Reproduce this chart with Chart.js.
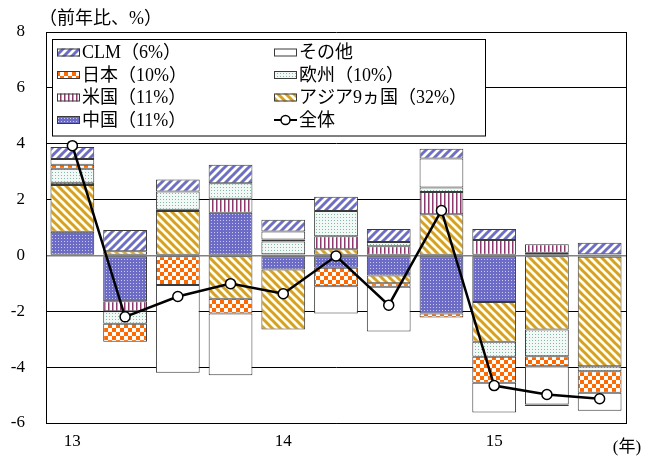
<!DOCTYPE html>
<html>
<head>
<meta charset="utf-8">
<script src="https://cdn.jsdelivr.net/npm/chart.js@4"></script>
<style>
  html, body { margin: 0; padding: 0; background: #fff; }
</style>
</head>
<body>
<canvas id="chart" width="656" height="457"></canvas>
<script>
/* 地域別輸出の前年比寄与度 (stacked bars + total line) */

const quarters = ["13Q1", "13Q2", "13Q3", "13Q4", "14Q1", "14Q2", "14Q3", "14Q4", "15Q1", "15Q2", "15Q3"];
const yearLabels = ["13", "", "", "", "14", "", "", "", "15", "", ""];

// stacking order from the axis outwards
const china = [0.85, -1.64, null, 1.53, -0.5, -0.44, -0.72, -2.08, -1.67, 0.1, -0.05];
const asia9 = [1.67, 0.15, 1.59, -1.55, -2.15, 0.22, -0.28, 1.47, -1.42, -2.65, -3.92];
const usa = [0.08, -0.36, 0.05, 0.5, 0.04, 0.47, 0.33, 0.8, 0.55, 0.3, 0.04];
const europe = [0.5, -0.45, 0.65, 0.55, 0.46, 0.9, 0.15, 0.16, -0.54, -0.96, -0.18];
const japan = [0.15, -0.64, -1.06, -0.53, 0.07, -0.66, -0.12, -0.14, -0.93, -0.36, -0.77];
const others = [0.2, null, -3.14, -2.21, 0.29, -0.98, -1.6, 1.04, -1.06, -1.37, -0.64];
const clm = [0.43, 0.76, 0.43, 0.67, 0.42, 0.51, 0.47, 0.35, 0.4, -0.05, 0.41];
const total = [3.93, -2.2, -1.47, -1.01, -1.37, -0.02, -1.78, 1.61, -4.66, -4.98, -5.13];

const FONT = '"Liberation Serif", "Noto Sans CJK JP", serif';
const EDGE = "#3a3a3a";

function makePattern(w, h, draw) {
  const c = document.createElement("canvas");
  c.width = w;
  c.height = h;
  const x = c.getContext("2d");
  draw(x, w, h);
  return x.createPattern(c, "repeat");
}

function stripes(color, rising) {
  return makePattern(8, 8, (x, w, h) => {
    x.fillStyle = "#fff";
    x.fillRect(0, 0, w, h);
    x.strokeStyle = color;
    x.lineWidth = 3;
    x.beginPath();
    for (let k = -1; k <= 1; k++) {
      if (rising) {
        x.moveTo(k * w - 1, h + 1);
        x.lineTo(k * w + w + 1, -1);
      } else {
        x.moveTo(k * w - 1, -1);
        x.lineTo(k * w + w + 1, h + 1);
      }
    }
    x.stroke();
  });
}

function dots(base, dot) {
  return makePattern(3, 3, (x) => {
    x.fillStyle = base;
    x.fillRect(0, 0, 3, 3);
    x.fillStyle = dot;
    x.fillRect(1, 1, 1, 1);
  });
}

const fills = {
  clm: stripes("#6f6fc2", true),
  asia9: stripes("#d8a11c", false),
  japan: makePattern(8, 8, (x) => {
    x.fillStyle = "#fff";
    x.fillRect(0, 0, 8, 8);
    x.fillStyle = "#ff6a00";
    x.fillRect(0, 0, 4, 4);
    x.fillRect(4, 4, 4, 4);
  }),
  usa: makePattern(4, 2, (x) => {
    x.fillStyle = "#fff";
    x.fillRect(0, 0, 4, 2);
    x.fillStyle = "#8c3a6e";
    x.fillRect(0, 0, 1.5, 2);
  }),
  china: dots("#6c6cc6", "#c9c9f0"),
  europe: dots("#f2f8f5", "#86b8a8"),
  others: "#ffffff",
};

function bar(label, data, fill) {
  return {
    type: "bar",
    label: label,
    data: data,
    backgroundColor: fill,
    borderColor: EDGE,
    borderWidth: 1,
    borderSkipped: false,
    stack: "a",
    order: 1,
    barPercentage: 0.83,
    categoryPercentage: 1.0,
  };
}

const legendItems = [
  { text: "CLM（6%）", fill: fills.clm, col: 0, row: 0 },
  { text: "日本（10%）", fill: fills.japan, col: 0, row: 1 },
  { text: "米国（11%）", fill: fills.usa, col: 0, row: 2 },
  { text: "中国（11%）", fill: fills.china, col: 0, row: 3 },
  { text: "その他", fill: fills.others, col: 1, row: 0 },
  { text: "欧州（10%）", fill: fills.europe, col: 1, row: 1 },
  { text: "アジア9ヵ国（32%）", fill: fills.asia9, col: 1, row: 2 },
  { text: "全体", line: true, col: 1, row: 3 },
];

const decor = {
  id: "decor",
  afterDraw(chart) {
    const ctx = chart.ctx;
    const a = chart.chartArea;
    ctx.save();
    // right frame line
    ctx.strokeStyle = "#000";
    ctx.lineWidth = 1;
    ctx.beginPath();
    ctx.moveTo(a.right + 0.5, a.top);
    ctx.lineTo(a.right + 0.5, a.bottom);
    ctx.stroke();

    // legend box
    const bx = 52.5, by = 39.5, bw = 433, bh = 96.5;
    ctx.fillStyle = "#fff";
    ctx.fillRect(bx, by, bw, bh);
    ctx.strokeStyle = "#000";
    ctx.strokeRect(bx, by, bw, bh);
    const colX = [57, 274];
    const rowY = [52.5, 75, 97.5, 120];
    ctx.font = "18px " + FONT;
    ctx.textBaseline = "middle";
    ctx.textAlign = "left";
    legendItems.forEach((it) => {
      const x = colX[it.col];
      const y = rowY[it.row];
      if (it.line) {
        ctx.strokeStyle = "#000";
        ctx.lineWidth = 2;
        ctx.beginPath();
        ctx.moveTo(x, y);
        ctx.lineTo(x + 23, y);
        ctx.stroke();
        ctx.fillStyle = "#fff";
        ctx.lineWidth = 1.5;
        ctx.beginPath();
        ctx.arc(x + 11.5, y, 4.5, 0, Math.PI * 2);
        ctx.fill();
        ctx.stroke();
      } else {
        ctx.fillStyle = it.fill;
        ctx.fillRect(x, y - 4, 23, 8);
        ctx.strokeStyle = EDGE;
        ctx.lineWidth = 1;
        ctx.strokeRect(x + 0.5, y - 3.5, 22, 7);
      }
      ctx.fillStyle = "#000";
      ctx.fillText(it.text, x + 25, y + 1);
    });

    // axis captions
    ctx.fillText("（前年比、%）", 39, 19);
    ctx.font = "17px " + FONT;
    ctx.textAlign = "center";
    ctx.fillText("(年)", 627, 448);
    ctx.restore();
  },
};

const config = {
  data: {
    labels: quarters,
    datasets: [
      {
        type: "line",
        label: "全体",
        data: total,
        borderColor: "#000",
        borderWidth: 2.5,
        pointRadius: 5,
        pointBackgroundColor: "#fff",
        pointBorderColor: "#000",
        pointBorderWidth: 1.5,
        stack: "total",
        order: 0,
      },
      bar("中国（11%）", china, fills.china),
      bar("アジア9ヵ国（32%）", asia9, fills.asia9),
      bar("米国（11%）", usa, fills.usa),
      bar("欧州（10%）", europe, fills.europe),
      bar("日本（10%）", japan, fills.japan),
      bar("その他", others, fills.others),
      bar("CLM（6%）", clm, fills.clm),
    ],
  },
  options: {
    responsive: false,
    animation: false,
    layout: { padding: { top: 32, right: 30, bottom: 0, left: 0 } },
    plugins: {
      legend: { display: false },
      tooltip: { enabled: false },
    },
    scales: {
      x: {
        stacked: true,
        grid: { display: false, drawTicks: false },
        border: { color: "#000", width: 1 },
        ticks: {
          autoSkip: false,
          maxRotation: 0,
          padding: 8,
          color: "#000",
          font: { family: FONT, size: 17 },
          callback: (v, i) => yearLabels[i],
        },
        afterFit: (s) => { s.height = 34; },
      },
      y: {
        stacked: true,
        min: -6,
        max: 8,
        grid: {
          drawTicks: false,
          color: (c) => (c.tick.value === 0 ? "#808080" : "#000"),
          lineWidth: (c) => (c.tick.value === 0 ? 1.5 : 1),
        },
        border: { color: "#000", width: 1 },
        ticks: {
          stepSize: 2,
          padding: 21,
          color: "#000",
          font: { family: FONT, size: 17 },
        },
        afterFit: (s) => { s.width = 46; },
      },
    },
  },
  plugins: [decor],
};

window.onload = function () {
  const ctx = document.getElementById("chart").getContext("2d");
  window.exportChart = new Chart(ctx, config);
};
</script>
</body>
</html>
